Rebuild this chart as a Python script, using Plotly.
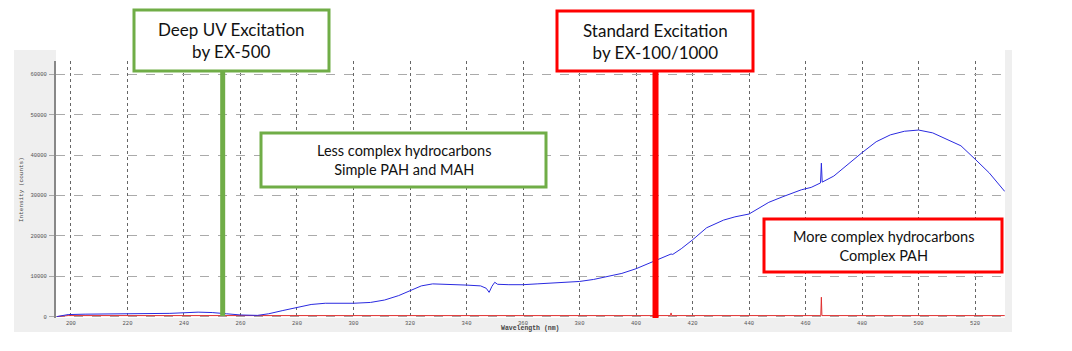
import plotly.graph_objects as go

# ---- data ----
wavelength = [195, 199, 205, 220, 235, 245, 250, 255, 260, 266, 270, 275, 280, 285, 290, 300,
              306, 311, 316, 320, 324, 328, 335, 340, 345, 347, 348, 349, 350, 351, 355, 360,
              365, 370, 375, 380, 385, 389, 395, 400, 407, 411, 412.4, 413, 416, 420, 425,
              431, 435, 440, 447, 452, 458.5, 462, 465.3, 465.6, 465.9, 470, 475, 480, 485,
              490, 495, 500, 505, 510, 515, 520, 525, 530.5]
intensity = [0, 500, 600, 700, 800, 1100, 1000, 700, 400, 300, 700, 1500, 2300, 3000, 3300, 3300,
             3500, 4100, 5200, 6500, 7600, 8100, 8000, 7800, 7600, 7000, 6000, 7500, 8500, 8000, 7900, 7900,
             8100, 8300, 8400, 8700, 9200, 9800, 10700, 11850, 13900, 14900, 15500, 15400, 16800, 19000, 22000,
             23900, 24700, 25400, 28300, 29700, 31400, 32000, 33100, 38000, 33300, 34800, 37800, 40600, 43300,
             45000, 45900, 46200, 45500, 44000, 42300, 39000, 35600, 31000]

ref_wavelength = [195, 199, 260, 412.2, 412.4, 412.6, 465.4, 465.6, 465.8, 530.5]
ref_intensity = [0, 250, 250, 250, 900, 250, 250, 4800, 250, 250]

x_ticks = [200, 220, 240, 260, 280, 300, 320, 340, 360, 380, 400, 420, 440, 460, 480, 500, 520]
y_ticks = [0, 10000, 20000, 30000, 40000, 50000, 60000]

excitation_nm = [253.7, 406.9]
excitation_labels = ["Deep UV Excitation<br>by EX-500", "Standard Excitation<br>by EX-100/1000"]
region_labels = ["Less complex hydrocarbons<br>Simple PAH and MAH",
                 "More complex hydrocarbons<br>Complex PAH"]

GREEN = "#70ad47"
RED = "#ff0000"

W, H = 1072, 351
L, R, T, B = 56, 1005, 61, 318
pw, ph = R - L, B - T


def px(x):
    return (x - L) / pw


def py(y):
    return (B - y) / ph


fig = go.Figure()
fig.add_trace(go.Scatter(x=ref_wavelength, y=ref_intensity, mode="lines",
                         line=dict(color="#e03030", width=1), showlegend=False))
fig.add_trace(go.Scatter(x=wavelength, y=intensity, mode="lines",
                         line=dict(color="#2a2ae0", width=1), showlegend=False))

shapes = []
# gray outer panel and white plot area
shapes.append(dict(type="rect", xref="paper", yref="paper", layer="below",
                   x0=px(14), x1=px(1012), y0=py(332), y1=py(50),
                   fillcolor="#efefef", line=dict(width=0)))
shapes.append(dict(type="rect", xref="paper", yref="paper", layer="below",
                   x0=0, x1=1, y0=0, y1=py(50),
                   fillcolor="white", line=dict(width=0)))

# excitation lines
shapes.append(dict(type="line", xref="x", yref="paper", x0=excitation_nm[0], x1=excitation_nm[0],
                   y0=py(316), y1=py(70), line=dict(color=GREEN, width=5), layer="above"))
shapes.append(dict(type="line", xref="x", yref="paper", x0=excitation_nm[1], x1=excitation_nm[1],
                   y0=py(318), y1=py(70), line=dict(color=RED, width=6), layer="above"))

boxes = [
    (134, 329, 10, 71, GREEN, excitation_labels[0], 17),
    (557, 753, 11, 71, RED, excitation_labels[1], 17),
    (261, 546, 133, 187, GREEN, region_labels[0], 14.5),
    (764, 1002, 219, 272, RED, region_labels[1], 14.5),
]
annotations = []
for x0, x1, y0, y1, col, txt, fs in boxes:
    shapes.append(dict(type="rect", xref="paper", yref="paper", layer="above",
                       x0=px(x0), x1=px(x1), y0=py(y1), y1=py(y0),
                       fillcolor="white", line=dict(color=col, width=3)))
    annotations.append(dict(xref="paper", yref="paper", x=px((x0 + x1) / 2), y=py((y0 + y1) / 2),
                            text=txt, showarrow=False, xanchor="center", yanchor="middle",
                            font=dict(family="Lato, Open Sans, sans-serif", size=fs, color="#111111")))

# axis titles
annotations.append(dict(xref="paper", yref="paper", x=px(530), y=py(328), text="<b>Wavelength (nm)</b>",
                        showarrow=False, xanchor="center", yanchor="middle",
                        font=dict(family="Liberation Mono, monospace", size=6.5, color="#444444")))
annotations.append(dict(xref="paper", yref="paper", x=px(21), y=py(190), text="Intensity (counts)",
                        showarrow=False, xanchor="center", yanchor="middle", textangle=-90,
                        font=dict(family="Liberation Mono, monospace", size=6, color="#444444")))

fig.update_layout(
    width=W, height=H,
    margin=dict(l=L, r=W - R, t=T, b=H - B, pad=0),
    paper_bgcolor="white", plot_bgcolor="white",
    shapes=shapes, annotations=annotations, showlegend=False,
    xaxis=dict(range=[194.7, 530.6], tickvals=x_ticks, ticktext=[str(v) for v in x_ticks],
               showgrid=True, gridcolor="#666666", griddash="dot", gridwidth=1,
               zeroline=False, showline=False, ticks="", ticklabelstandoff=0,
               tickfont=dict(family="Liberation Mono, monospace", size=5.5, color="#555555")),
    yaxis=dict(range=[-350, 63300], tickvals=y_ticks, ticktext=[str(v) for v in y_ticks],
               showgrid=True, gridcolor="#aaaaaa", griddash="dash", gridwidth=1,
               zeroline=False, showline=True, linecolor="#888888", linewidth=2,
               ticks="outside", ticklen=5, tickcolor="#aaaaaa", ticklabelstandoff=1,
               tickfont=dict(family="Liberation Mono, monospace", size=5.5, color="#555555")),
)

fig.write_html("out.html")
